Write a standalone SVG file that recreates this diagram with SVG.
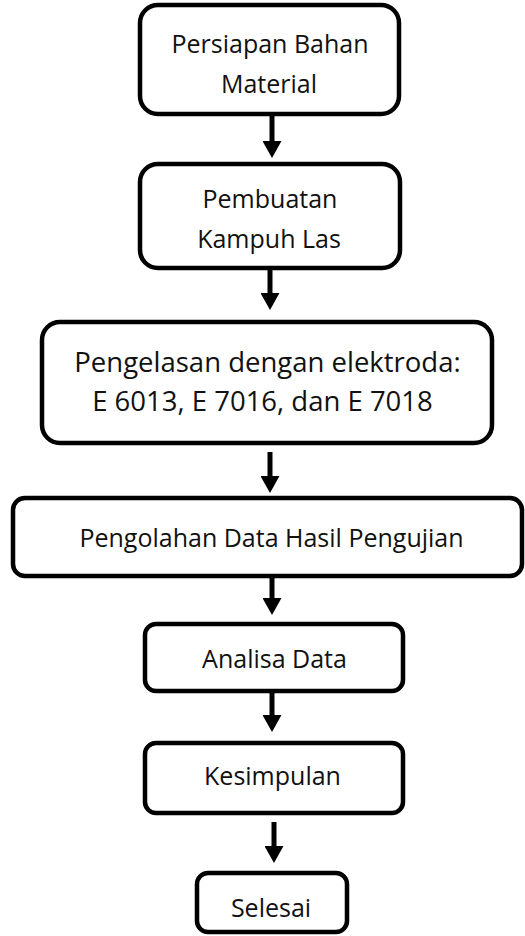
<svg xmlns="http://www.w3.org/2000/svg" width="525" height="936" viewBox="0 0 525 936">
<defs>
<style>
.box{fill:#fff;stroke:#000;stroke-width:4.5}
.t{font-family:"Open Sans","Noto Sans",sans-serif;font-size:25px;fill:#111;text-anchor:middle}
.t3{font-size:27.5px}
.c{stroke:#000;stroke-width:5;fill:none;marker-end:url(#ah)}
</style>
<marker id="ah" markerUnits="userSpaceOnUse" markerWidth="17" markerHeight="19" refX="0" refY="9.5" orient="auto">
<path d="M0,0 L17,9.5 L0,19 z" fill="#000"/>
</marker>
</defs>
<rect width="525" height="936" fill="#fff"/>
<g id="connectors">
<line class="c" x1="272" y1="114" x2="272" y2="141"/>
<line class="c" x1="270" y1="270" x2="270" y2="293"/>
<line class="c" x1="270" y1="452" x2="270" y2="476"/>
<line class="c" x1="272" y1="576" x2="272" y2="598"/>
<line class="c" x1="272" y1="692" x2="272" y2="715"/>
<line class="c" x1="274" y1="822" x2="274" y2="846"/>
</g>
<g id="n1"><rect class="box" x="140" y="5" width="259" height="109" rx="18"/>
<text class="t" x="270" y="53">Persiapan Bahan</text><text class="t" x="269" y="93">Material</text></g>
<g id="n2"><rect class="box" x="140" y="164" width="260" height="104" rx="18"/>
<text class="t" x="270" y="208">Pembuatan</text><text class="t" x="269" y="248">Kampuh Las</text></g>
<g id="n3"><rect class="box" x="42" y="322" width="450" height="121" rx="18"/>
<text class="t t3" x="267.5" y="372">Pengelasan dengan elektroda:</text><text class="t t3" x="262.5" y="411">E 6013, E 7016, dan E 7018</text></g>
<g id="n4"><rect class="box" x="13" y="498" width="509" height="78" rx="12"/>
<text class="t" x="271.5" y="547">Pengolahan Data Hasil Pengujian</text></g>
<g id="n5"><rect class="box" x="145" y="624" width="258" height="67" rx="11"/>
<text class="t" x="274.5" y="668">Analisa Data</text></g>
<g id="n6"><rect class="box" x="145" y="743" width="258" height="70" rx="11"/>
<text class="t" x="272.5" y="785">Kesimpulan</text></g>
<g id="n7"><rect class="box" x="197" y="873" width="150" height="59" rx="11"/>
<text class="t" x="271" y="917">Selesai</text></g>
</svg>
